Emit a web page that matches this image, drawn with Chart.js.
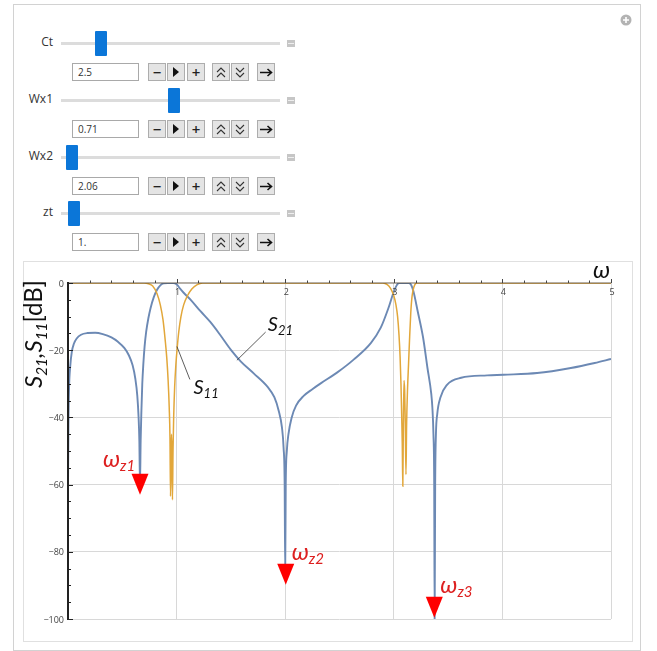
<!DOCTYPE html>
<html><head><meta charset="utf-8">
<script src="https://cdn.jsdelivr.net/npm/chart.js@4.4.1/dist/chart.umd.min.js"></script>
<style>
html,body{margin:0;padding:0;background:#fff;width:657px;height:651px;overflow:hidden;font-family:"Open Sans",sans-serif;}
.abs{position:absolute;box-sizing:border-box}
#outer{left:13px;top:4px;width:628px;height:647px;border:1px solid #d2d2d2;}
#inner{left:23px;top:261px;width:610px;height:381px;border:1px solid #e0e0e0;}
.lbl{left:0;width:53px;text-align:right;font-size:12px;color:#333;line-height:18px;height:18px}
.track{left:61px;width:219px;height:3px;background:#dcdcdc}
.thumb{width:12px;height:25px;background:#0b76d8;border-radius:1px}
.endic{left:287px;width:8px;height:7px;background:#c6c6c6}
.endic::after{content:"";position:absolute;left:1px;right:1px;top:3px;height:1px;background:#eee}
.box{left:72px;width:67px;height:18px;border:1px solid #a9a9a9;background:#fff;font-size:10px;color:#333;padding-left:5px;line-height:16px}
.btn{width:18px;height:18px;border:1px solid #adadad;background:#e4e4e4;display:flex;align-items:center;justify-content:center;font-size:15px;color:#222;line-height:1;font-weight:600}
canvas{position:absolute;left:0;top:0}
</style></head>
<body>
<div id="outer" class="abs"></div>
<div id="inner" class="abs"></div>
<svg class="abs" style="left:620px;top:14px" width="12" height="12" viewBox="0 0 12 12"><circle cx="6" cy="6" r="5.5" fill="#b3b3b3"/><path d="M6 3v6M3 6h6" stroke="#fff" stroke-width="1.6"/></svg>
<div id="controls"></div>
<canvas id="c" width="657" height="651"></canvas>
<script>
// ---- controls (Manipulate panel) ----
const controlNames = ['Ct', 'Wx1', 'Wx2', 'zt'];
const controlValues = ['2.5', '0.71', '2.06', '1.'];

// ---- data ----
const s21X = [0.000,0.004,0.010,0.020,0.035,0.055,0.08,0.12,0.18,0.25,0.32,0.40,0.46,0.52,0.56,0.595,0.62,0.638,0.650,0.657,0.663,0.669,0.676,0.684,0.694,0.705,0.72,0.74,0.76,0.79,0.82,0.85,0.88,0.92,0.97,1.00,1.03,1.065,1.13,1.22,1.31,1.40,1.50,1.59,1.71,1.84,1.90,1.94,1.97,1.985,1.995,2.000,2.005,2.015,2.03,2.06,2.10,2.17,2.25,2.33,2.48,2.63,2.79,2.88,2.95,3.00,3.03,3.05,3.14,3.16,3.18,3.22,3.27,3.31,3.345,3.355,3.365,3.372,3.376,3.381,3.388,3.40,3.43,3.49,3.62,3.86,4.01,4.32,4.63,4.85,5.0];
const s21Y = [-62,-42,-31,-25,-20.5,-18,-16.5,-15.4,-14.9,-14.8,-15.2,-16.2,-17.5,-19.4,-21.5,-24.5,-28.5,-33.5,-40,-47,-60,-47,-38,-30,-24,-19,-14.5,-10.5,-7.5,-4.2,-2,-0.7,-0.1,0,0,-0.4,-1.6,-2.9,-5,-8.4,-11.6,-15.4,-19.9,-23.3,-26.9,-31,-34,-38,-43,-49,-60,-86,-60,-50,-45,-40,-36.5,-33.6,-31.6,-29.8,-26.6,-22.8,-17.8,-13.3,-7.5,-2.6,-0.5,0,0,-0.6,-2.4,-8.4,-16.3,-25.3,-33,-37,-45,-60,-100,-60,-45,-39,-34,-30.3,-28.2,-27.5,-27.3,-26.8,-25.3,-23.8,-22.6];
const s11X = [0,0.70,0.74,0.78,0.82,0.85,0.875,0.895,0.91,0.922,0.932,0.939,0.944,0.949,0.953,0.957,0.962,0.967,0.973,0.982,0.994,1.005,1.02,1.04,1.065,1.10,1.14,1.19,1.24,2.90,2.94,2.97,3.00,3.02,3.035,3.048,3.058,3.066,3.073,3.078,3.083,3.088,3.094,3.100,3.106,3.112,3.118,3.126,3.136,3.146,3.156,3.168,3.185,3.21,5.0];
const s11Y = [0,0,-0.2,-0.9,-3.2,-6.5,-11,-17,-22.5,-29,-37,-46,-63.5,-50,-45,-50,-64.5,-50,-40,-31,-24,-19.5,-14.5,-10,-6.5,-3.8,-1.8,-0.5,0,0,-0.5,-1.6,-3.8,-6.5,-10,-15.5,-22,-30,-40,-48,-60.5,-42,-29,-32,-42,-57,-42,-32,-24,-16,-9,-4,-1.2,0,0];
const xTickValues = [1, 2, 3, 4, 5];
const xTickLabels = ['1', '2', '3', '4', '5'];
const yTickValues = [0, -20, -40, -60, -80, -100];
const yTickLabels = ['0', '\u221220', '\u221240', '\u221260', '\u221280', '\u2212100'];

// build controls
(function(){
  const host = document.getElementById('controls');
  const sliderY = [43, 100, 157, 213];
  const thumbX = [101, 174, 72, 74];
  const btnX = [148, 167, 187, 212, 231, 257];
  const icons = [
    '<span>\u2212</span>',
    '<svg width="8" height="10"><path d="M1 0L7 5L1 10Z" fill="#111"/></svg>',
    '<span>+</span>',
    '<svg width="10" height="11"><path d="M1 5L5 1L9 5M1 10L5 6L9 10" fill="none" stroke="#333" stroke-width="1.1"/></svg>',
    '<svg width="10" height="11"><path d="M1 1L5 5L9 1M1 6L5 10L9 6" fill="none" stroke="#333" stroke-width="1.1"/></svg>',
    '<svg width="13" height="9"><path d="M0 4.5H11M7.5 1L11.5 4.5L7.5 8" fill="none" stroke="#111" stroke-width="1.6"/></svg>'
  ];
  let h = '';
  controlNames.forEach((n, i) => {
    const sy = sliderY[i], by = sy + 20;
    h += `<div class="abs lbl" style="top:${sy-10}px">${n}</div>`;
    h += `<div class="abs track" style="top:${sy-1.5}px"></div>`;
    h += `<div class="abs thumb" style="left:${thumbX[i]-6}px;top:${sy-12.5}px"></div>`;
    h += `<div class="abs endic" style="top:${sy-3.5}px"></div>`;
    h += `<div class="abs box" style="top:${by}px">${controlValues[i]}</div>`;
    btnX.forEach((bx, k) => { h += `<div class="abs btn" style="left:${bx}px;top:${by}px">${icons[k]}</div>`; });
  });
  host.innerHTML = h;
})();

function rich(ctx, pieces, x, y, scale) {
  let cx = x;
  for (const p of pieces) {
    ctx.font = p.f(scale);
    ctx.fillText(p.t, cx, y + (p.dy || 0) * scale);
    cx += ctx.measureText(p.t).width;
  }
  return cx - x;
}
const F = (style, size) => (s) => `${style} ${size * s}px Lato, "Open Sans", sans-serif`;

const mmaPlugin = {
  id: 'mma',
  afterDatasetsDraw(chart) {
    const { ctx, chartArea: a, scales: { x, y } } = chart;
    const y0 = y.getPixelForValue(0), x0 = x.getPixelForValue(0);
    ctx.save();
    // x axis line (at 0 dB)
    ctx.strokeStyle = 'rgba(70,55,35,0.8)';
    ctx.lineWidth = 1.2;
    ctx.beginPath(); ctx.moveTo(a.left, y0); ctx.lineTo(a.right, y0); ctx.stroke();
    // x ticks (upwards)
    ctx.lineWidth = 1;
    ctx.strokeStyle = '#444';
    for (let v = 0.2; v <= 5.001; v += 0.2) {
      const px = Math.round(x.getPixelForValue(v)) + 0.5;
      const major = Math.abs(v - Math.round(v)) < 1e-6;
      ctx.beginPath(); ctx.moveTo(px, y0); ctx.lineTo(px, y0 - (major ? 4 : 2.5)); ctx.stroke();
    }
    // x tick labels
    ctx.fillStyle = '#444';
    ctx.font = '9px "Open Sans", sans-serif';
    ctx.textAlign = 'center'; ctx.textBaseline = 'top';
    xTickValues.forEach((v, i) => ctx.fillText(xTickLabels[i], x.getPixelForValue(v) + 1, y0 + 5));
    // y axis
    ctx.strokeStyle = '#222';
    ctx.lineWidth = 2;
    ctx.beginPath(); ctx.moveTo(x0, y0 - 1); ctx.lineTo(x0, a.bottom + 1); ctx.stroke();
    ctx.lineWidth = 1;
    for (let v = 0; v >= -100; v -= 5) {
      const py = Math.round(y.getPixelForValue(v)) + 0.5;
      const major = v % 20 === 0;
      ctx.beginPath(); ctx.moveTo(x0, py); ctx.lineTo(x0 + (major ? 5 : 3), py); ctx.stroke();
    }
    ctx.textAlign = 'right'; ctx.textBaseline = 'middle';
    yTickValues.forEach((v, i) => ctx.fillText(yTickLabels[i], x0 - 4, y.getPixelForValue(v) + 1));
    // y title
    ctx.fillStyle = '#111';
    ctx.textAlign = 'left'; ctx.textBaseline = 'alphabetic';
    const yt = [
      { t: 'S', f: F('italic', 22) }, { t: '21', f: F('italic', 14), dy: 5 },
      { t: ',', f: F('italic', 22) },
      { t: 'S', f: F('italic', 22) }, { t: '11', f: F('italic', 14), dy: 5 },
      { t: '[dB]', f: F('normal', 22) }
    ];
    const w = rich({ fillText() {}, measureText: (t) => ctx.measureText(t), set font(v) { ctx.font = v; } }, yt, 0, 0, 1);
    const sc = 108 / w;
    ctx.save();
    ctx.translate(a.left - 26, y0 + 105);
    ctx.rotate(-Math.PI / 2);
    rich(ctx, yt, 0, 0, sc);
    ctx.restore();
    // omega axis label
    ctx.fillStyle = '#111';
    ctx.font = 'italic 24px Lato, sans-serif';
    ctx.fillText('\u03c9', a.right - 18, y0 - 5);

    // S21 / S11 labels with pointers
    const notes = [
      { lx: 1.84, ly: -14.4, p0: [1.82, -14.6], p1: [1.555, -23.0], main: 'S', sub: '21' },
      { lx: 1.155, ly: -33.0, p0: [1.122, -28.7], p1: [1.003, -18.9], main: 'S', sub: '11' }
    ];
    ctx.strokeStyle = '#333'; ctx.lineWidth = 0.8;
    notes.forEach(n => {
      ctx.beginPath();
      ctx.moveTo(x.getPixelForValue(n.p0[0]), y.getPixelForValue(n.p0[1]));
      ctx.lineTo(x.getPixelForValue(n.p1[0]), y.getPixelForValue(n.p1[1]));
      ctx.stroke();
      ctx.fillStyle = '#111';
      rich(ctx, [{ t: n.main, f: F('italic', 20) }, { t: n.sub, f: F('italic', 13), dy: 4 }],
        x.getPixelForValue(n.lx), y.getPixelForValue(n.ly), 1);
    });

    // red zero markers
    const zeros = [
      { x: 0.663, y: -63.0, sub: 'z1', dx: -37, dy: -28 },
      { x: 2.005, y: -89.8, sub: 'z2', dx: 6, dy: -25 },
      { x: 3.373, y: -99.6, sub: 'z3', dx: 6, dy: -25 }
    ];
    zeros.forEach(z => {
      const tx = x.getPixelForValue(z.x), ty = y.getPixelForValue(z.y);
      ctx.fillStyle = '#ff0000';
      ctx.beginPath(); ctx.moveTo(tx, ty); ctx.lineTo(tx - 8.5, ty - 21); ctx.lineTo(tx + 8.5, ty - 21); ctx.closePath(); ctx.fill();
      ctx.fillStyle = '#dd2020';
      rich(ctx, [{ t: '\u03c9', f: F('italic', 24) }, { t: z.sub, f: F('italic', 15), dy: 4 }], tx + z.dx, ty + z.dy, 1);
    });
    ctx.restore();
  }
};

new Chart(document.getElementById('c'), {
  type: 'scatter',
  data: {
    datasets: [
      { label: 'S21', data: s21X.map((v, i) => ({ x: v, y: s21Y[i] })), showLine: true, borderColor: '#6c89b4', borderWidth: 1.9, pointRadius: 0, cubicInterpolationMode: 'monotone', order: 2 },
      { label: 'S11', data: s11X.map((v, i) => ({ x: v, y: s11Y[i] })), showLine: true, borderColor: '#e2a73a', borderWidth: 1.5, pointRadius: 0, cubicInterpolationMode: 'monotone', order: 1 }
    ]
  },
  options: {
    responsive: false, animation: false, devicePixelRatio: 1,
    layout: { padding: { left: 68, top: 283, right: 46, bottom: 32 } },
    plugins: { legend: { display: false }, tooltip: { enabled: false } },
    scales: {
      x: { type: 'linear', min: 0, max: 5, afterFit: s => { s.height = 0; },
        ticks: { display: false, stepSize: 1 }, border: { display: false },
        grid: { drawTicks: false, color: c => (c.tick && c.tick.value === 0) ? 'rgba(0,0,0,0)' : '#d8d8d8' } },
      y: { type: 'linear', min: -100, max: 0, afterFit: s => { s.width = 0; },
        ticks: { display: false, stepSize: 20 }, border: { display: false },
        grid: { drawTicks: false, color: c => (c.tick && c.tick.value === 0) ? 'rgba(0,0,0,0)' : '#d8d8d8' } }
    }
  },
  plugins: [mmaPlugin]
});
</script>
</body></html>
